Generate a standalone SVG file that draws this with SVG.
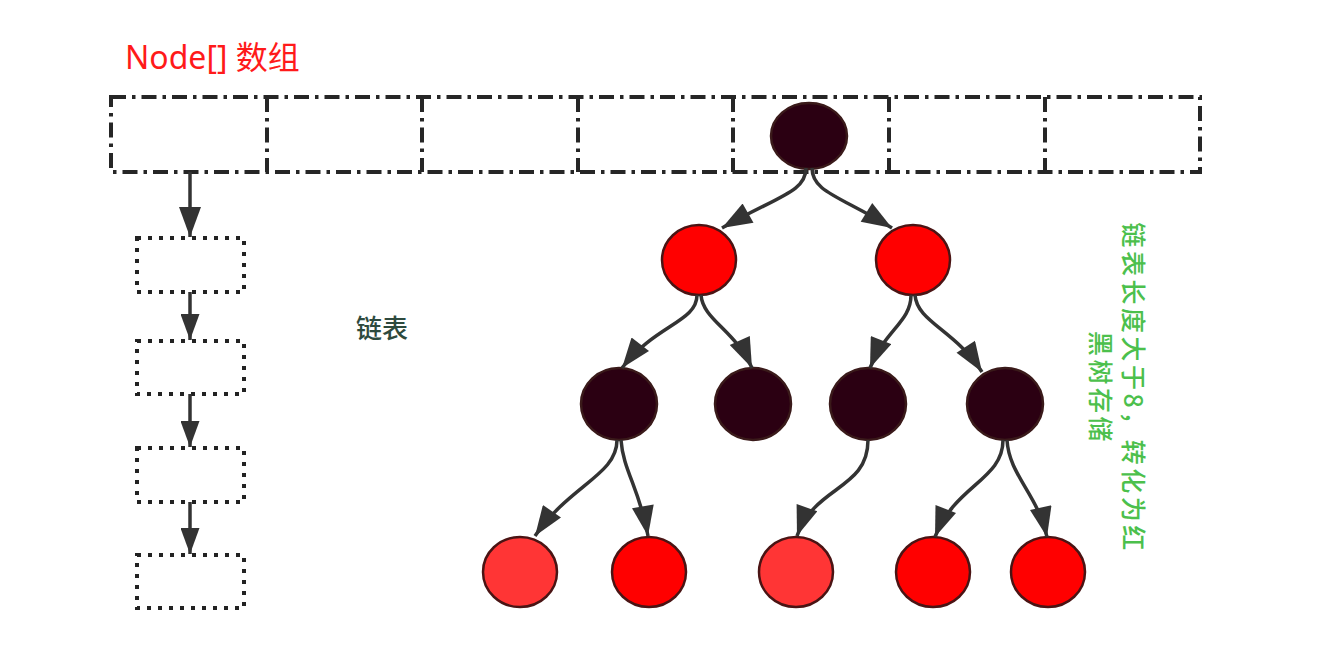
<svg xmlns="http://www.w3.org/2000/svg" width="1343" height="665" viewBox="0 0 1343 665">
<style>
.arr{fill:none;stroke:#262626;stroke-width:4;stroke-dasharray:15 6 3.5 6}
.ll{fill:none;stroke:#222;stroke-width:4;stroke-dasharray:4 7}
.edge{fill:none;stroke:#333;stroke-width:3.5}
.dark{fill:#2b0012;stroke:#3a1a1a;stroke-width:2.5}
.red{fill:#ff0000;stroke:#4a1414;stroke-width:2.5}
.lred{fill:#ff3535;stroke:#4a1414;stroke-width:2.5}
.title{font-family:"Noto Sans","Noto Sans CJK SC",sans-serif;font-size:32px;fill:#ff1a1a}
.lbl{font-family:"Noto Sans CJK SC",sans-serif;font-size:26px;font-weight:500;fill:#2e4a3e}
.note{font-family:"Noto Sans CJK SC",sans-serif;font-size:25px;font-weight:500;fill:#4cc04c;letter-spacing:3.5px}
</style>
<defs>
<marker id="ah" viewBox="0 0 30 22" refX="30" refY="11" markerWidth="32" markerHeight="22" markerUnits="userSpaceOnUse" orient="auto">
<path d="M0,0 L30,11 L0,22 Z" fill="#333"/>
</marker>
<marker id="ahs" viewBox="0 0 30 22" refX="30" refY="11" markerWidth="32" markerHeight="19" markerUnits="userSpaceOnUse" orient="auto">
<path d="M0,0 L30,11 L0,22 Z" fill="#333"/>
</marker>
</defs>
<text class="title" x="125" y="69">Node[] 数组</text>
<g id="array">
<rect class="arr" x="111" y="97" width="1089" height="75"/>
<line class="arr" x1="267" y1="97" x2="267" y2="172"/>
<line class="arr" x1="422" y1="97" x2="422" y2="172"/>
<line class="arr" x1="578" y1="97" x2="578" y2="172"/>
<line class="arr" x1="733" y1="97" x2="733" y2="172"/>
<line class="arr" x1="889" y1="97" x2="889" y2="172"/>
<line class="arr" x1="1045" y1="97" x2="1045" y2="172"/>
</g>
<g id="list1"><rect class="ll" x="137" y="238" width="107" height="54"/></g>
<g id="list2"><rect class="ll" x="137" y="341" width="107" height="53"/></g>
<g id="list3"><rect class="ll" x="137" y="448" width="107" height="54"/></g>
<g id="list4"><rect class="ll" x="137" y="555" width="107" height="53"/></g>
<text class="lbl" x="382" y="338" text-anchor="middle">链表</text>
<g id="tree">
<g id="n0"><ellipse class="dark" cx="809" cy="136" rx="38" ry="33"/></g>
<g id="n1"><ellipse class="red" cx="699" cy="260" rx="37" ry="35"/></g>
<g id="n2"><ellipse class="red" cx="913" cy="260" rx="37" ry="35"/></g>
<g id="n3"><ellipse class="dark" cx="619" cy="404" rx="38" ry="36"/></g>
<g id="n4"><ellipse class="dark" cx="753" cy="404" rx="38" ry="36"/></g>
<g id="n5"><ellipse class="dark" cx="868" cy="404" rx="38" ry="36"/></g>
<g id="n6"><ellipse class="dark" cx="1005" cy="404" rx="38" ry="36"/></g>
<g id="n7"><ellipse class="lred" cx="520" cy="572" rx="37" ry="35"/></g>
<g id="n8"><ellipse class="red" cx="649" cy="572" rx="37" ry="35"/></g>
<g id="n9"><ellipse class="lred" cx="796" cy="572" rx="37" ry="35"/></g>
<g id="n10"><ellipse class="red" cx="933" cy="572" rx="37" ry="35"/></g>
<g id="n11"><ellipse class="red" cx="1048" cy="572" rx="37" ry="35"/></g>
</g>
<g id="connectors">
<line class="edge" x1="190" y1="172" x2="190" y2="237" marker-end="url(#ah)"/>
<line class="edge" x1="190" y1="292" x2="190" y2="340" marker-end="url(#ahs)"/>
<line class="edge" x1="190" y1="394" x2="190" y2="447" marker-end="url(#ahs)"/>
<line class="edge" x1="190" y1="502" x2="190" y2="554" marker-end="url(#ahs)"/>
<path class="edge" d="M806,168 C806,192 778,196 722,228" marker-end="url(#ah)"/>
<path class="edge" d="M812,168 C812,192 840,196 892,228" marker-end="url(#ah)"/>
<path class="edge" d="M697,295 C697,322 655,325 622,368" marker-end="url(#ah)"/>
<path class="edge" d="M701,295 C703,320 735,330 752,368" marker-end="url(#ah)"/>
<path class="edge" d="M911,295 C911,322 885,330 870,368" marker-end="url(#ah)"/>
<path class="edge" d="M915,295 C917,322 955,330 982,372" marker-end="url(#ah)"/>
<path class="edge" d="M617,440 C617,475 570,485 535,536" marker-end="url(#ah)"/>
<path class="edge" d="M621,440 C623,470 640,490 648,536" marker-end="url(#ah)"/>
<path class="edge" d="M868,440 C868,490 815,485 797,536" marker-end="url(#ah)"/>
<path class="edge" d="M1003,440 C1003,480 955,485 935,537" marker-end="url(#ah)"/>
<path class="edge" d="M1007,440 C1009,475 1038,495 1047,537" marker-end="url(#ah)"/>
</g>
<g transform="translate(1124,388) rotate(90)">
<text class="note" x="0" y="0" text-anchor="middle">链表长度大于8，转化为红</text>
<text class="note" x="0" y="33" text-anchor="middle">黑树存储</text>
</g>
</svg>
